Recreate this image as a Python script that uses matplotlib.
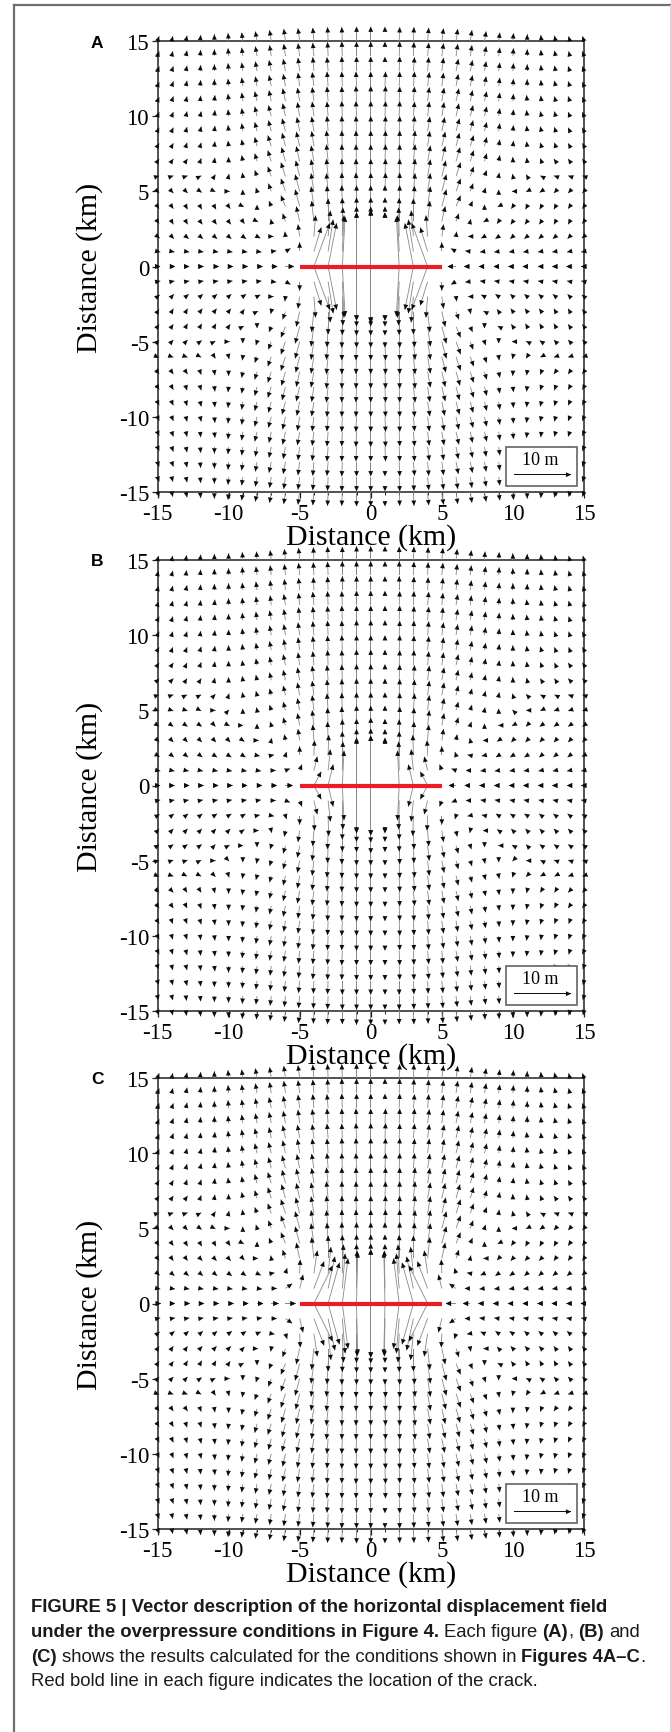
import numpy as np
import matplotlib
matplotlib.use("Agg")
import matplotlib.pyplot as plt
from matplotlib import font_manager
from matplotlib.lines import Line2D
from matplotlib.patches import Rectangle

plt.rcParams['axes.unicode_minus'] = False

# ---------------- data ----------------
# grid nodes (km) of one quadrant; the field is mirrored about x=0 and y=0
grid_km = list(range(0, 16))
tick_values = [-15, -10, -5, 0, 5, 10, 15]
tick_labels = ['-15', '-10', '-5', '0', '5', '10', '15']
crack_x_km = [-5, 5]
crack_y_km = [0, 0]
panel_labels = ['A', 'B', 'C']
axis_label = 'Distance (km)'
legend_arrow_m = 10.0
legend_label = '10 m'

# displacement components in decimetres, quadrant x>=0 (columns), y>=0 (rows)
# u: +x (away from x=0), v: +y (away from the crack)
v_A_dm = [
    [95, 90, 83, 72, 72, 0, 0, 0, 0, 0, 0, 0, 0, 0, 0, 0],
    [68, 65, 60, 53, 40, 15, 5, 1, -1, -1, -1, -1, -1, -1, -1, -1],
    [50, 50, 48, 43, 35, 20, 8, 0, -3, -4, -4, -4, -4, -4, -4, -3],
    [40, 40, 39, 38, 34, 25, 13, 4, -1, -4, -5, -5, -5, -5, -5, -4],
    [35, 35, 35, 34, 33, 28, 18, 9, 3, -1, -4, -5, -5, -5, -4, -4],
    [31, 31, 31, 30, 30, 28, 21, 13, 6, 3, 0, -1, -2, -3, -3, -3],
    [29, 29, 29, 29, 28, 26, 23, 16, 10, 6, 4, 3, 1, 1, 1, 1],
    [28, 28, 28, 28, 26, 25, 23, 18, 13, 10, 7, 6, 5, 4, 4, 4],
    [26, 26, 26, 26, 25, 24, 22, 18, 15, 11, 9, 8, 6, 6, 5, 5],
    [25, 25, 25, 25, 24, 23, 21, 18, 15, 13, 10, 9, 8, 7, 6, 6],
    [25, 25, 25, 24, 24, 23, 21, 18, 16, 13, 11, 10, 8, 8, 7, 7],
    [25, 25, 24, 24, 23, 22, 21, 18, 16, 14, 12, 10, 9, 8, 8, 7],
    [24, 24, 24, 24, 23, 22, 20, 18, 16, 14, 12, 11, 10, 9, 8, 7],
    [24, 24, 24, 23, 23, 22, 20, 18, 16, 14, 13, 11, 10, 9, 8, 8],
    [24, 24, 24, 23, 22, 21, 20, 18, 16, 14, 13, 11, 10, 9, 8, 8],
    [24, 24, 23, 23, 22, 21, 20, 18, 16, 14, 13, 11, 10, 9, 8, 8],
]
u_A_dm = [
    [0, 0, -5, -15, -28, 0, -15, -11, -10, -9, -8, -8, -6, -6, -6, -5],
    [0, 0, -3, -9, -13, 0, -9, -9, -8, -8, -7, -7, -6, -6, -5, -5],
    [0, 0, -1, -4, -3, 3, 1, -4, -6, -6, -5, -5, -5, -5, -4, -4],
    [0, 0, 0, 0, 4, 6, 5, 1, -2, -3, -4, -4, -4, -3, -3, -3],
    [0, 0, 1, 2, 5, 8, 8, 4, 0, -2, -3, -3, -3, -3, -3, -3],
    [0, 1, 1, 3, 5, 8, 8, 5, 2, 0, -2, -2, -3, -3, -3, -3],
    [0, 1, 1, 3, 5, 7, 8, 6, 4, 1, -1, -2, -2, -3, -3, -3],
    [0, 1, 1, 3, 5, 6, 7, 6, 4, 2, 0, -1, -2, -3, -3, -3],
    [0, 1, 1, 3, 4, 6, 6, 6, 4, 2, 1, -1, -2, -2, -3, -3],
    [0, 1, 1, 2, 4, 5, 6, 5, 4, 2, 1, -1, -2, -2, -3, -3],
    [0, 1, 1, 2, 3, 4, 5, 5, 4, 2, 1, -1, -2, -2, -3, -3],
    [0, 1, 1, 2, 3, 4, 5, 4, 4, 2, 1, -1, -1, -2, -3, -3],
    [0, 1, 1, 2, 3, 3, 4, 4, 3, 2, 1, 0, -1, -2, -3, -3],
    [0, 0, 1, 2, 2, 3, 4, 4, 3, 2, 1, 0, -1, -2, -3, -3],
    [0, 0, 1, 1, 2, 3, 3, 3, 3, 2, 1, 0, -1, -2, -2, -3],
    [0, 0, 1, 1, 2, 3, 3, 3, 3, 2, 1, 0, -1, -2, -2, -3],
]
v_B_dm = [
    [83, 78, 58, 35, 23, 0, 0, 0, 0, 0, 0, 0, 0, 0, 0, 0],
    [58, 55, 48, 35, 23, 10, 3, 0, -1, -1, -1, -1, -1, -1, -1, -1],
    [45, 44, 40, 34, 25, 15, 6, 1, -1, -3, -3, -3, -3, -3, -3, -2],
    [38, 36, 35, 31, 26, 19, 10, 4, 0, -2, -3, -3, -3, -3, -3, -3],
    [33, 33, 31, 29, 25, 20, 13, 6, 3, 0, -1, -2, -2, -2, -2, -2],
    [30, 30, 29, 28, 25, 20, 14, 9, 5, 3, 1, 0, -1, -1, -1, -1],
    [28, 28, 27, 26, 24, 21, 16, 11, 7, 5, 3, 2, 1, 1, 1, 1],
    [27, 27, 26, 25, 24, 21, 17, 13, 9, 7, 5, 4, 3, 3, 3, 3],
    [26, 26, 25, 25, 23, 21, 18, 14, 11, 8, 7, 6, 5, 4, 4, 4],
    [25, 25, 25, 24, 23, 21, 18, 15, 12, 10, 8, 7, 6, 5, 5, 5],
    [25, 25, 24, 24, 23, 21, 18, 16, 13, 11, 9, 8, 7, 6, 6, 6],
    [24, 24, 24, 23, 22, 21, 18, 16, 14, 12, 10, 9, 8, 7, 6, 6],
    [24, 24, 23, 23, 22, 20, 18, 16, 14, 12, 11, 9, 8, 7, 7, 6],
    [23, 23, 23, 22, 21, 20, 18, 16, 14, 12, 11, 10, 9, 8, 7, 7],
    [23, 23, 23, 22, 21, 20, 18, 16, 14, 13, 11, 10, 9, 8, 7, 7],
    [23, 23, 22, 22, 21, 20, 18, 16, 14, 13, 11, 10, 9, 8, 7, 7],
]
u_B_dm = [
    [0, 0, -3, -9, -13, 0, -13, -10, -9, -8, -7, -7, -6, -6, -5, -5],
    [0, 0, -1, -4, -6, -4, -8, -8, -7, -7, -6, -6, -5, -5, -5, -5],
    [0, 0, 0, -1, -1, 0, -2, -5, -5, -5, -5, -5, -4, -4, -4, -4],
    [0, 0, 0, 1, 2, 3, 2, -1, -3, -3, -3, -3, -3, -3, -3, -3],
    [0, 0, 1, 1, 3, 4, 4, 2, 0, -1, -2, -2, -3, -3, -3, -3],
    [0, 0, 1, 2, 3, 4, 4, 3, 1, 0, -1, -2, -2, -3, -3, -3],
    [0, 0, 1, 2, 3, 4, 4, 3, 2, 1, -1, -2, -2, -2, -3, -3],
    [0, 0, 1, 2, 3, 4, 4, 3, 2, 1, 0, -1, -2, -2, -3, -3],
    [0, 0, 1, 1, 2, 3, 4, 3, 2, 1, 0, -1, -2, -2, -3, -3],
    [0, 0, 1, 1, 2, 3, 3, 3, 2, 1, 0, -1, -2, -2, -2, -3],
    [0, 0, 1, 1, 2, 3, 3, 3, 2, 1, 0, -1, -1, -2, -2, -3],
    [0, 0, 1, 1, 2, 2, 3, 3, 2, 1, 0, -1, -1, -2, -2, -3],
    [0, 0, 1, 1, 2, 2, 3, 2, 2, 1, 0, -1, -1, -2, -2, -2],
    [0, 0, 0, 1, 1, 2, 2, 2, 2, 1, 0, 0, -1, -2, -2, -2],
    [0, 0, 0, 1, 1, 2, 2, 2, 2, 1, 0, 0, -1, -1, -2, -2],
    [0, 0, 0, 1, 1, 2, 2, 2, 1, 1, 0, 0, -1, -1, -2, -2],
]
v_C_dm = [
    [90, 85, 75, 68, 63, 0, 0, 0, 0, 0, 0, 0, 0, 0, 0, 0],
    [65, 63, 58, 53, 45, 23, 8, 0, -1, -1, -1, -1, -1, -1, -1, -1],
    [50, 49, 48, 44, 38, 23, 9, 1, -3, -4, -4, -4, -4, -4, -4, -3],
    [40, 40, 39, 38, 35, 26, 14, 5, 0, -3, -4, -4, -4, -4, -4, -4],
    [35, 35, 35, 34, 33, 28, 18, 9, 3, -1, -4, -5, -5, -5, -4, -4],
    [31, 31, 31, 30, 30, 28, 21, 13, 6, 3, 0, -1, -2, -3, -3, -3],
    [29, 29, 29, 29, 28, 26, 23, 16, 10, 6, 4, 3, 1, 1, 1, 1],
    [28, 28, 28, 28, 26, 25, 23, 18, 13, 10, 7, 6, 5, 4, 4, 4],
    [26, 26, 26, 26, 25, 24, 22, 18, 15, 11, 9, 8, 6, 6, 5, 5],
    [25, 25, 25, 25, 24, 23, 21, 18, 15, 13, 10, 9, 8, 7, 6, 6],
    [25, 25, 25, 24, 24, 23, 21, 18, 16, 13, 11, 10, 8, 8, 7, 7],
    [25, 25, 24, 24, 23, 22, 21, 18, 16, 14, 12, 10, 9, 8, 8, 7],
    [24, 24, 24, 24, 23, 22, 20, 18, 16, 14, 12, 11, 10, 9, 8, 7],
    [24, 24, 24, 23, 23, 22, 20, 18, 16, 14, 13, 11, 10, 9, 8, 8],
    [24, 24, 24, 23, 22, 21, 20, 18, 16, 14, 13, 11, 10, 9, 8, 8],
    [24, 24, 23, 23, 22, 21, 20, 18, 16, 14, 13, 11, 10, 9, 8, 8],
]
u_C_dm = [
    [0, -2, -10, -20, -33, 0, -18, -13, -11, -10, -9, -8, -7, -7, -6, -6],
    [0, -1, -5, -12, -18, -6, -12, -10, -9, -8, -7, -7, -6, -6, -6, -5],
    [0, 0, -2, -5, -6, -1, -3, -6, -7, -6, -6, -5, -5, -5, -5, -4],
    [0, 0, 0, 0, 4, 6, 5, 1, -2, -3, -4, -4, -4, -3, -3, -3],
    [0, 0, 1, 2, 5, 8, 8, 4, 0, -2, -3, -3, -3, -3, -3, -3],
    [0, 1, 1, 3, 5, 8, 8, 5, 2, 0, -2, -2, -3, -3, -3, -3],
    [0, 1, 1, 3, 5, 7, 8, 6, 4, 1, -1, -2, -2, -3, -3, -3],
    [0, 1, 1, 3, 5, 6, 7, 6, 4, 2, 0, -1, -2, -3, -3, -3],
    [0, 1, 1, 3, 4, 6, 6, 6, 4, 2, 1, -1, -2, -2, -3, -3],
    [0, 1, 1, 2, 4, 5, 6, 5, 4, 2, 1, -1, -2, -2, -3, -3],
    [0, 1, 1, 2, 3, 4, 5, 5, 4, 2, 1, -1, -2, -2, -3, -3],
    [0, 1, 1, 2, 3, 4, 5, 4, 4, 2, 1, -1, -1, -2, -3, -3],
    [0, 1, 1, 2, 3, 3, 4, 4, 3, 2, 1, 0, -1, -2, -3, -3],
    [0, 0, 1, 2, 2, 3, 4, 4, 3, 2, 1, 0, -1, -2, -3, -3],
    [0, 0, 1, 1, 2, 3, 3, 3, 3, 2, 1, 0, -1, -2, -2, -3],
    [0, 0, 1, 1, 2, 3, 3, 3, 3, 2, 1, 0, -1, -2, -2, -3],
]

caption_lines = [
    [("FIGURE 5 | Vector description of the horizontal displacement field", True, False)],
    [("under the overpressure conditions in Figure 4.", True, False),
     ("Each figure", False, True), ("(A)", True, True), (",", False, False),
     ("(B)", True, True), ("and", False, True)],
    [("(C)", True, False),
     ("shows the results calculated for the conditions shown in", False, True),
     ("Figures 4A\u2013C", True, True), (".", False, False)],
    [("Red bold line in each figure indicates the location of the crack.", False, False)],
]

# ---------------- style / layout ----------------
KM_PER_M = 0.4          # 10 m drawn as 4 km
HEAD_LEN = 0.36         # km
HEAD_W = 0.33           # km
SERIF = 'Liberation Serif'
W, H = 671, 1733


def fx(px):
    return px / W


def fy(py):
    return 1 - py / H


def assemble(uq_dm, vq_dm):
    uq = np.asarray(uq_dm, float) / 10.0
    vq = np.asarray(vq_dm, float) / 10.0
    g = np.asarray(grid_km)
    full = np.concatenate([-g[:0:-1], g])
    X, Y = np.meshgrid(full, full)
    I, J = np.abs(X), np.abs(Y)
    U = np.sign(X) * uq[J, I]
    V = np.where(Y >= 0, 1.0, -1.0) * vq[J, I]
    # second set of arrows on the lower side of the y = 0 row
    X0 = full.copy()
    Y0 = np.zeros_like(full)
    U0 = np.sign(X0) * uq[0, np.abs(full)]
    V0 = -vq[0, np.abs(full)]
    X = np.concatenate([X.ravel(), X0]).astype(float)
    Y = np.concatenate([Y.ravel(), Y0]).astype(float)
    U = np.concatenate([U.ravel(), U0])
    V = np.concatenate([V.ravel(), V0])
    keep = (U != 0) | (V != 0)
    return X[keep], Y[keep], U[keep], V[keep]


def draw_arrows(ax, X, Y, U, V, shaft_color, shaft_w, zorder):
    ax.quiver(X, Y, U, V, angles='xy', scale_units='xy', scale=1 / KM_PER_M,
              units='dots', width=shaft_w, headwidth=1, headlength=0,
              headaxislength=0, minshaft=0, minlength=0, color=shaft_color,
              zorder=zorder, clip_on=False, linewidth=0)
    tipx = X + U * KM_PER_M
    tipy = Y + V * KM_PER_M
    mag = np.hypot(U, V)
    dx = U / mag * HEAD_LEN
    dy = V / mag * HEAD_LEN
    w = 0.02
    ax.quiver(tipx, tipy, dx, dy, angles='xy', scale_units='xy', scale=1,
              pivot='tip', units='xy', width=w, headwidth=HEAD_W / w,
              headlength=HEAD_LEN / w, headaxislength=HEAD_LEN / w,
              minshaft=0, minlength=0, color='#0c0c0c', zorder=zorder + 1,
              clip_on=False, linewidth=0)


fig = plt.figure(figsize=(W / 100, H / 100), dpi=100)
fig.patch.set_facecolor('white')

fields = [(u_A_dm, v_A_dm), (u_B_dm, v_B_dm), (u_C_dm, v_C_dm)]
panel_tops = [42.0, 561.0, 1079.0]
ax_left, ax_w, ax_h = 157.5, 426.5, 451.0

for k, (uq, vq) in enumerate(fields):
    top = panel_tops[k]
    ax = fig.add_axes([fx(ax_left), fy(top + ax_h), ax_w / W, ax_h / H])
    ax.set_xlim(-15, 15)
    ax.set_ylim(-15, 15)
    X, Y, U, V = assemble(uq, vq)
    draw_arrows(ax, X, Y, U, V, '#8a8a8a', 0.85, 3)
    ax.plot(crack_x_km, crack_y_km, color='#ec1c24', lw=3.0,
            solid_capstyle='butt', zorder=6)

    # scale box
    ax.add_patch(Rectangle((9.5, -14.6), 5.0, 2.6, facecolor='white',
                           edgecolor='#707070', lw=1.3, zorder=7))
    ax.text(11.95, -12.85, legend_label, ha='center', va='center',
            family=SERIF, fontsize=13, zorder=8)
    lx, ly = np.array([10.1]), np.array([-13.85])
    lu, lv = np.array([legend_arrow_m]), np.array([0.0])
    draw_arrows(ax, lx, ly, lu, lv, '#101010', 1.1, 8)

    ax.set_xticks(tick_values)
    ax.set_xticklabels(tick_labels)
    ax.set_yticks(tick_values)
    ax.set_yticklabels(tick_labels)
    ax.set_xticks(range(-15, 16), minor=True)
    ax.set_yticks(range(-15, 16), minor=True)
    ax.tick_params(which='major', direction='out', length=4, width=0.9,
                   labelsize=16.5, color='#222222')
    ax.tick_params(axis='x', which='major', pad=4)
    ax.tick_params(axis='y', which='major', pad=2)
    ax.tick_params(which='minor', direction='out', length=2.2, width=0.7,
                   color='#222222')
    ax.tick_params(top=False, right=False, which='both')
    for lab in ax.get_xticklabels() + ax.get_yticklabels():
        lab.set_family(SERIF)
    for s in ax.spines.values():
        s.set_linewidth(1.1)
        s.set_color('#222222')
        s.set_zorder(2.5)
    ax.set_xlabel(axis_label, family=SERIF, fontsize=21.5, va='center')
    ax.set_ylabel(axis_label, family=SERIF, fontsize=21.5, va='center')
    ax.xaxis.set_label_coords(0.5, -45 / ax_h)
    ax.yaxis.set_label_coords(-(ax_left - 90) / ax_w, 0.5)
    ax.set_facecolor('white')

    fig.text(fx(97), fy(top + 1), panel_labels[k], family='Liberation Sans',
             fontweight='bold', fontsize=12.5, ha='center', va='center')

# frame around the figure
fig.add_artist(Line2D([fx(14), fx(14)], [fy(6), fy(H)], color='#6e6e6e', lw=1.6))
fig.add_artist(Line2D([fx(14), fx(W)], [fy(6), fy(6)], color='#6e6e6e', lw=1.6))
fig.add_artist(Line2D([fx(670), fx(670)], [fy(6), fy(H)], color='#d8d8d8', lw=0.8))

# caption
avail = {f.name for f in font_manager.fontManager.ttflist}
cap_family = 'Liberation Sans Narrow' if 'Liberation Sans Narrow' in avail else 'Liberation Sans'
renderer = fig.canvas.get_renderer()


def width_px(s, size, bold):
    t = fig.text(0, 0, s, family=cap_family, fontsize=size,
                 fontweight='bold' if bold else 'normal')
    w = t.get_window_extent(renderer).width
    t.remove()
    return w


w14 = width_px(caption_lines[0][0][0], 14, True)
cap_size = 14 * 579.0 / w14
space_w = width_px('a a', cap_size, False) - width_px('aa', cap_size, False)
baselines = [1612, 1637, 1662, 1686]
for line, base in zip(caption_lines, baselines):
    x = 31.0
    for text, bold, space_before in line:
        if space_before:
            x += space_w
        fig.text(fx(x), fy(base), text, family=cap_family, fontsize=cap_size,
                 fontweight='bold' if bold else 'normal', ha='left',
                 va='baseline', color='#1a1a1a')
        x += width_px(text, cap_size, bold)

fig.savefig('out.png', dpi=100)
